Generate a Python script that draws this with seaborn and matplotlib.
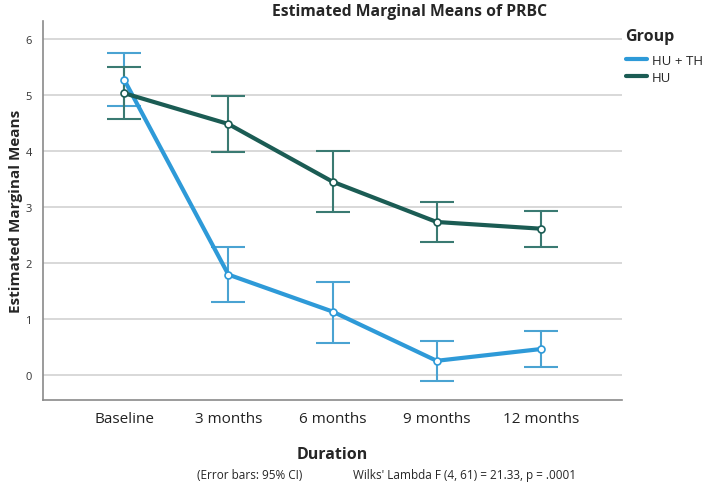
import numpy as np
import pandas as pd
import matplotlib
matplotlib.use("Agg")
import matplotlib.pyplot as plt
import seaborn as sns

durations = ["Baseline", "3 months", "6 months", "9 months", "12 months"]
groups = ["HU + TH", "HU"]

# estimated marginal means and 95% CI
hu_th_mean = [5.27, 1.79, 1.13, 0.25, 0.46]
hu_th_lo = [4.80, 1.30, 0.57, -0.11, 0.14]
hu_th_hi = [5.74, 2.29, 1.66, 0.61, 0.79]

hu_mean = [5.03, 4.48, 3.45, 2.73, 2.61]
hu_lo = [4.57, 3.98, 2.91, 2.38, 2.29]
hu_hi = [5.50, 4.98, 4.00, 3.09, 2.93]

line_colors = {"HU + TH": "#2e9ad8", "HU": "#1b5c54"}
err_colors = {"HU + TH": "#4aa3d2", "HU": "#3a7a72"}

df = pd.concat([
    pd.DataFrame({"Duration": durations, "Group": "HU + TH", "Mean": hu_th_mean,
                  "lo": hu_th_lo, "hi": hu_th_hi}),
    pd.DataFrame({"Duration": durations, "Group": "HU", "Mean": hu_mean,
                  "lo": hu_lo, "hi": hu_hi}),
], ignore_index=True)

sns.set_theme(style="white")
plt.rcParams['font.family'] = ['Open Sans', 'DejaVu Sans']

fig = plt.figure(figsize=(7.09, 4.85), dpi=100)
ax = fig.add_axes([43 / 709, 1 - 401 / 485, (622 - 43) / 709, (401 - 22) / 485])

for y in range(0, 7):
    ax.axhline(y, color="#d6d6d6", lw=1.3, zorder=0)

# error bars first so the lines sit on top
for g, sub in df.groupby("Group", sort=False):
    xs = np.arange(len(sub))
    m = sub["Mean"].to_numpy()
    ax.errorbar(xs, m, yerr=[m - sub["lo"].to_numpy(), sub["hi"].to_numpy() - m],
                fmt="none", ecolor=err_colors[g], elinewidth=1.5, capsize=12,
                capthick=1.5, zorder=2)

sns.lineplot(data=df, x="Duration", y="Mean", hue="Group", hue_order=groups,
             palette=line_colors, sort=False, lw=3, marker="o", markersize=5,
             ax=ax, zorder=3)
for ln in ax.get_lines():
    if ln.get_marker() == "o":
        ln.set_markeredgecolor(ln.get_color())
        ln.set_markerfacecolor("white")
        ln.set_markeredgewidth(1.2)

ax.set_xlim(-0.78, 4.78)
ax.set_ylim(-0.45, 6.32)
ax.set_yticks(range(0, 7))
ax.tick_params(axis="y", labelsize=8, colors="#333333", length=0, pad=8)
ax.tick_params(axis="x", labelsize=11, colors="#222222", length=0, pad=8)
ax.set_xlabel("Duration", fontsize=11.5, fontweight="bold", labelpad=14)
ax.set_ylabel("Estimated Marginal Means", fontsize=11, fontweight="bold")
ax.yaxis.set_label_coords(-0.035, 0.5)
for s in ["top", "right"]:
    ax.spines[s].set_visible(False)
for s in ["left", "bottom"]:
    ax.spines[s].set_color("#8a8a8a")
    ax.spines[s].set_linewidth(1.2)

leg = ax.legend(title="Group", loc="upper left", bbox_to_anchor=(0.997, 0.995),
                frameon=False, fontsize=9.5, title_fontsize=11.5,
                handlelength=1.6, handletextpad=0.4, labelspacing=0.3,
                borderaxespad=0.0)
leg.get_title().set_fontweight("bold")
leg._legend_box.align = "left"
leg._legend_box.sep = 7
for h in leg.get_lines():
    h.set_marker("")
    h.set_linewidth(3)

fig.text(410 / 709, 1 - 12 / 485, "Estimated Marginal Means of PRBC",
         ha="center", va="center", fontsize=11.3, fontweight="bold")
fig.text(197 / 709, 1 - 476 / 485, "(Error bars: 95% CI)",
         ha="left", va="center", fontsize=8.5)
fig.text(353 / 709, 1 - 476 / 485, "Wilks' Lambda F (4, 61) = 21.33, p = .0001",
         ha="left", va="center", fontsize=8.5)

fig.savefig("out.png", dpi=100)
